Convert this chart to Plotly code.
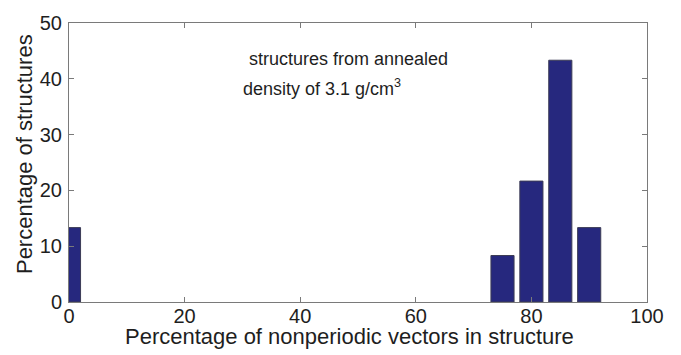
import plotly.graph_objects as go

# Histogram of nonperiodic-vector percentages (bin centres, % of structures)
bin_centers = [0, 75, 80, 85, 90]
pct_structures = [13.33, 8.33, 21.67, 43.33, 13.33]
x_ticks = [0, 20, 40, 60, 80, 100]
y_ticks = [0, 10, 20, 30, 40, 50]

FONT = "Liberation Sans, Arial, sans-serif"
TXT = "#1e1e1e"
AX = "#7a7a7a"

fig = go.Figure(
    go.Bar(
        x=bin_centers,
        y=pct_structures,
        width=4,
        marker=dict(color="#26287e", line=dict(color="#3c3c55", width=1)),
    )
)

axis_common = dict(
    showline=True,
    linecolor=AX,
    linewidth=1,
    mirror="ticks",
    ticks="inside",
    ticklen=5,
    tickcolor=AX,
    showgrid=False,
    zeroline=False,
    tickfont=dict(family=FONT, size=20, color=TXT),
)

fig.update_xaxes(range=[0, 100], tickvals=x_ticks, ticklabelstandoff=-4, **axis_common)
fig.update_yaxes(range=[0, 50], tickvals=y_ticks, ticklabelstandoff=2, **axis_common)

fig.add_annotation(
    text="structures from annealed", x=30.8, y=43.6, xref="x", yref="y",
    xanchor="left", yanchor="middle", showarrow=False,
    font=dict(family=FONT, size=18, color=TXT),
)
fig.add_annotation(
    text="density of 3.1 g/cm<sup>3</sup>", x=29.8, y=38.4, xref="x", yref="y",
    xanchor="left", yanchor="middle", showarrow=False,
    font=dict(family=FONT, size=18, color=TXT),
)
fig.add_annotation(
    text="Percentage of structures", x=-0.078, y=0.53, xref="paper", yref="paper",
    xanchor="center", yanchor="middle", textangle=-90, showarrow=False,
    font=dict(family=FONT, size=22, color=TXT),
)
fig.add_annotation(
    text="Percentage of nonperiodic vectors in structure", x=0.486, y=-0.125,
    xref="paper", yref="paper", xanchor="center", yanchor="middle", showarrow=False,
    font=dict(family=FONT, size=22, color=TXT),
)

fig.update_layout(
    width=681,
    height=355,
    margin=dict(l=69, r=34, t=17, b=53),
    plot_bgcolor="white",
    paper_bgcolor="white",
    showlegend=False,
)

fig.write_html("out.html")
